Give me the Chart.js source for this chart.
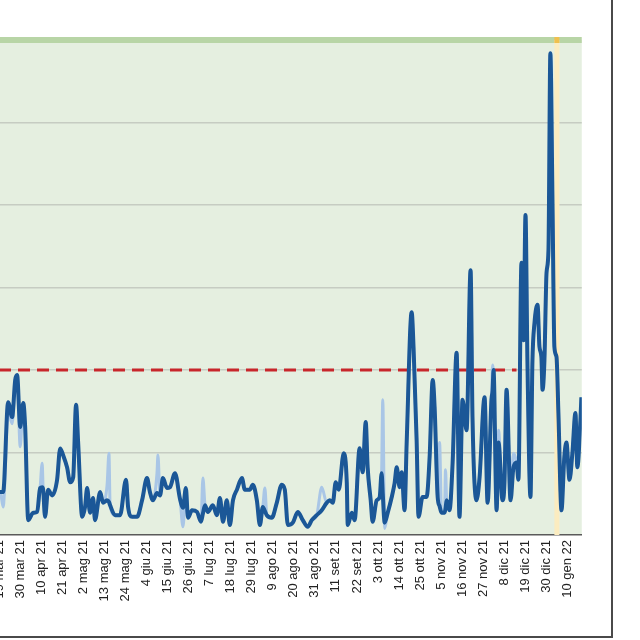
<!DOCTYPE html>
<html>
<head>
<meta charset="utf-8">
<script src="https://cdn.jsdelivr.net/npm/chart.js@4/dist/chart.umd.min.js"></script>
<style>
    html, body { margin: 0; padding: 0; background: #ffffff; overflow: hidden; }
    body { width: 640px; height: 640px; position: relative; }
    #frame {
        position: absolute; left: -10px; top: -10px;
        width: 621px; height: 646px;
        border-right: 2px solid #4a4a4a; border-bottom: 2px solid #4a4a4a;
    }
    #chart-wrap { position: absolute; left: -20px; top: 30px; width: 608px; height: 605px; }
</style>
</head>
<body>
<div id="frame"></div>
<div id="chart-wrap"><canvas id="casesChart"></canvas></div>
<script>
// days counted from 19 mar 21
const tickLabels = ['19 mar 21', '30 mar 21', '10 apr 21', '21 apr 21', '2 mag 21', '13 mag 21', '24 mag 21',
    '4 giu 21', '15 giu 21', '26 giu 21', '7 lug 21', '18 lug 21', '29 lug 21', '9 ago 21', '20 ago 21',
    '31 ago 21', '11 set 21', '22 set 21', '3 ott 21', '14 ott 21', '25 ott 21', '5 nov 21', '16 nov 21',
    '27 nov 21', '8 dic 21', '19 dic 21', '30 dic 21', '10 gen 22'];
const tickDays = [0, 11, 22, 33, 44, 55, 66, 77, 88, 99, 110, 121, 132, 143, 154, 165, 176, 187, 198,
    209, 220, 231, 242, 253, 264, 275, 286, 297];

const days = [-8, 0.6, 2.1, 4.7, 6.8, 8.4, 9.4, 11, 12.6, 13.6, 15.2, 17.8, 19.9, 21.4, 22.5, 23, 24, 25.6,
    27.7, 30.3, 31.9, 33.4, 35.5, 37.1, 38.7, 40.2, 41.3, 43.4, 44.9, 46, 47.5, 49.1, 50.1, 52.8, 54.3,
    56.4, 57.4, 58, 60.6, 63.2, 66.3, 67.4, 69.5, 72.1, 74.7, 77.3, 78.8, 80.4, 82.5, 83, 84.1, 85.6, 87.7,
    89.3, 91.9, 94.5, 96.1, 97.6, 98.7, 100.8, 103.4, 105.5, 106.5, 107.6, 109.1, 111.7, 113.8, 115.4, 117,
    119, 120.6, 122.2, 124.3, 126.9, 128.4, 131, 132.6, 134.7, 136.3, 137.8, 138.9, 139.9, 142.5, 145.1,
    147.7, 149.3, 150.9, 153.5, 156.1, 158.7, 161.3, 163.4, 166, 168.6, 171.2, 172.8, 174.4, 175.9, 177.5,
    180.1, 181.7, 182.2, 184.3, 185.8, 188.4, 190, 191.6, 192.6, 194.2, 195.2, 197.3, 198.9, 199.9, 200.5,
    201.5, 203.1, 205.2, 206.7, 207.8, 209.3, 210.4, 211.9, 213, 215.6, 216.6, 218.2, 219.2, 221.3, 223.4,
    225, 226.6, 227.6, 229.2, 230.2, 231.2, 232.8, 233.3, 233.9, 235.4, 237, 239.1, 240.6, 242.2, 244.3,
    246.4, 247.4, 249.5, 251.1, 253.7, 255.3, 257.3, 257.9, 258.4, 260, 261, 263.1, 264.1, 265.2, 267.3,
    268.8, 270.4, 271.4, 273, 274.1, 275.1, 276.1, 277.7, 278.7, 279.8, 281.4, 282.4, 283.4, 284, 285,
    286.1, 287.1, 288.1, 289.2, 290.2, 291.3, 292.3, 293.9, 295.4, 296.5, 298.1, 299.6, 301.2, 302.2,
    303.8, 304.3];

// light line (daily)
const rawCases = [4.8, 5.2, 3.4, 15.0, 13.5, 18.8, 19.4, 10.7, 16.0, 13.1, 1.8, 2.7, 2.8, 5.7, 8.7, 5.5, 2.2, 5.5,
    4.8, 6.7, 10.5, 9.7, 8.2, 6.4, 7.0, 15.8, 11.2, 2.2, 3.4, 5.7, 2.7, 4.5, 1.8, 5.2, 3.9,
    6.0, 9.9, 3.6, 2.4, 2.4, 6.7, 3.4, 2.2, 2.2, 4.2, 6.9, 5.2, 4.2, 7.5, 9.7, 4.8, 6.9, 5.7,
    5.8, 7.5, 4.4, 1.0, 5.7, 2.1, 3.0, 2.8, 1.6, 6.9, 3.6, 2.8, 3.6, 2.4, 4.5, 1.6,
    4.2, 1.2, 4.2, 5.5, 6.9, 5.5, 5.5, 6.1, 4.2, 1.2, 3.4, 5.7, 2.4, 2.1, 3.9,
    6.1, 5.5, 1.2, 1.5, 2.8, 1.8, 1.0, 1.8, 2.4, 5.8, 3.9, 4.2, 3.9, 6.4, 5.5,
    9.9, 6.3, 1.2, 2.7, 1.8, 10.5, 7.6, 13.7, 8.2, 4.2, 1.6, 4.2, 4.6, 7.5, 16.4,
    0.8, 2.7, 4.6, 6.3, 8.2, 5.8, 7.6, 3.0, 11.2, 27.0, 22.7, 11.5, 2.2, 4.6, 4.6,
    9.5, 18.8, 15.5, 4.6, 11.2, 2.7, 2.7, 7.9, 4.2, 3.0, 8.7, 22.1, 2.2, 16.4, 12.7,
    32.1, 14.3, 4.2, 7.0, 16.7, 3.9, 16.4, 20.6, 19.0, 3.0, 12.7, 4.2, 6.3, 17.6, 4.2,
    9.9, 8.8, 6.7, 33.0, 23.6, 38.8, 21.2, 4.6, 20.8, 25.7, 27.9, 22.8, 21.6, 17.6, 21.2,
    31.8, 34.5, 58.4, 40.6, 22.8, 21.6, 14.8, 3.0, 9.5, 11.2, 6.7, 9.9, 14.8, 8.2,
    13.9, 16.7];

// dark line
const avgCases = [4.8, 5.2, 5.2, 16.1, 14.3, 18.8, 19.4, 13.1, 16.0, 13.1, 1.8, 2.7, 2.8, 5.7, 5.8, 5.5, 2.2, 5.5,
    4.8, 6.7, 10.5, 9.7, 8.2, 6.4, 7.0, 15.8, 11.2, 2.2, 3.4, 5.7, 2.7, 4.5, 1.8, 5.2, 3.9,
    4.2, 4.0, 3.6, 2.4, 2.4, 6.7, 3.4, 2.2, 2.2, 4.2, 6.9, 5.2, 4.2, 5.1, 5.0, 4.8, 6.9, 5.7,
    5.8, 7.5, 4.4, 3.3, 5.7, 2.1, 3.0, 2.8, 1.6, 2.6, 3.6, 2.8, 3.6, 2.4, 4.5, 1.6,
    4.2, 1.2, 4.2, 5.5, 6.9, 5.5, 5.5, 6.1, 4.2, 1.2, 3.4, 2.9, 2.4, 2.1, 3.9,
    6.1, 5.5, 1.2, 1.5, 2.8, 1.8, 1.0, 1.8, 2.4, 3.0, 3.9, 4.2, 3.9, 6.4, 5.5,
    9.9, 6.3, 1.2, 2.7, 1.8, 10.5, 7.6, 13.7, 8.2, 4.2, 1.6, 4.2, 4.6, 7.5, 5.0,
    1.5, 2.7, 4.6, 6.3, 8.2, 5.8, 7.6, 3.0, 11.2, 27.0, 22.7, 11.5, 2.2, 4.6, 4.6,
    9.5, 18.8, 15.5, 4.6, 3.5, 2.7, 2.7, 3.2, 4.2, 3.0, 8.7, 22.1, 2.2, 16.4, 12.7,
    32.1, 14.3, 4.2, 7.0, 16.7, 3.9, 16.4, 17.5, 20.0, 3.0, 11.2, 4.2, 6.3, 17.6, 4.2,
    8.2, 8.8, 6.7, 33.0, 23.6, 38.8, 21.2, 4.6, 20.8, 25.7, 27.9, 22.8, 21.6, 17.6, 21.2,
    31.8, 34.5, 58.4, 40.6, 22.8, 21.6, 14.8, 3.0, 9.5, 11.2, 6.7, 9.9, 14.8, 8.2,
    13.9, 16.7];

const thresholdValue = 20;
const thresholdDays = [-10, 270.4];
const markerDay = 291.5;

document.addEventListener('DOMContentLoaded', function() {
    const toPoints = values => days.map((d, i) => ({ x: d, y: values[i] }));

    // light green plot background
    const plotBackground = {
        id: 'plotBackground',
        beforeDraw(chart) {
            const { ctx, chartArea } = chart;
            ctx.save();
            ctx.fillStyle = '#e5efe0';
            ctx.fillRect(chartArea.left, chartArea.top, chartArea.right - chartArea.left, chartArea.bottom - chartArea.top);
            ctx.restore();
        }
    };

    // yellow vertical marker
    const dayMarker = {
        id: 'dayMarker',
        beforeDatasetsDraw(chart) {
            const { ctx, chartArea, scales } = chart;
            const x = scales.x.getPixelForValue(markerDay);
            ctx.save();
            ctx.fillStyle = '#fbecc0';
            ctx.fillRect(x - 2.5, chartArea.top, 5, chartArea.bottom - chartArea.top);
            ctx.fillStyle = '#efc04e';
            ctx.fillRect(x - 2.5, chartArea.top - 3, 5, 6);
            ctx.restore();
        }
    };

    const ctx = document.getElementById('casesChart').getContext('2d');
    window.casesChart = new Chart(ctx, {
        type: 'line',
        data: {
            datasets: [{
                label: 'media',
                data: toPoints(avgCases),
                borderColor: '#1b5797',
                borderWidth: 4,
                pointRadius: 0,
                cubicInterpolationMode: 'monotone',
                order: 1
            }, {
                label: 'giornaliero',
                data: toPoints(rawCases),
                borderColor: '#a9c6e6',
                borderWidth: 3,
                pointRadius: 0,
                cubicInterpolationMode: 'monotone',
                order: 2
            }, {
                label: 'soglia',
                data: thresholdDays.map(d => ({ x: d, y: thresholdValue })),
                borderColor: '#c8262b',
                borderWidth: 3,
                borderDash: [12, 7],
                pointRadius: 0,
                order: 3
            }]
        },
        options: {
            responsive: true,
            maintainAspectRatio: false,
            animation: false,
            layout: { padding: { top: 10, left: 0, right: 0, bottom: 0 } },
            plugins: {
                legend: { display: false },
                tooltip: { enabled: false }
            },
            scales: {
                x: {
                    type: 'linear',
                    min: -10,
                    max: 304.5,
                    afterBuildTicks: function(scale) {
                        scale.ticks = tickDays.map(d => ({ value: d }));
                    },
                    afterFit: function(scale) {
                        scale.height = 100;
                    },
                    grid: { display: false, drawTicks: false },
                    border: { display: true, color: '#5a5a5a', width: 1.5 },
                    ticks: {
                        autoSkip: false,
                        minRotation: 90,
                        maxRotation: 90,
                        padding: 5,
                        color: '#222222',
                        font: { family: '"Liberation Sans", Arial, sans-serif', size: 13 },
                        callback: function(value, index) {
                            return tickLabels[index];
                        }
                    }
                },
                y: {
                    min: 0,
                    max: 60,
                    afterFit: function(scale) {
                        scale.width = 0;
                    },
                    ticks: { display: false, stepSize: 10 },
                    border: { display: false },
                    grid: {
                        drawTicks: false,
                        color: function(c) {
                            if (c.tick.value === 60) return '#b8d5a6';
                            if (c.tick.value === 0) return 'rgba(0,0,0,0)';
                            return '#c6ccc2';
                        },
                        lineWidth: function(c) {
                            return c.tick.value === 60 ? 6 : 1.5;
                        }
                    }
                }
            }
        },
        plugins: [plotBackground, dayMarker]
    });
});
</script>
</body>
</html>
